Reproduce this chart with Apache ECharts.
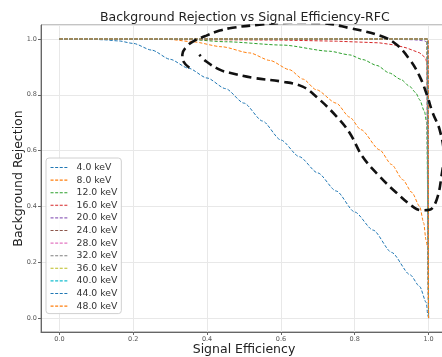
<!DOCTYPE html>
<html>
<head>
<meta charset="utf-8">
<script src="https://cdn.jsdelivr.net/npm/echarts@6/dist/echarts.min.js"></script>
<style>
  html, body { margin: 0; padding: 0; background: #ffffff; }
  #chart { width: 442px; height: 357px; }
</style>
</head>
<body>
<div id="chart"></div>
<script>
// Energy thresholds shown in the legend
const energies = ['4.0 keV', '8.0 keV', '12.0 keV', '16.0 keV', '20.0 keV', '24.0 keV',
                  '28.0 keV', '32.0 keV', '36.0 keV', '40.0 keV', '44.0 keV', '48.0 keV'];

// ROC points per energy: [signal efficiency, background rejection]
const roc4 = [[0, 1], [0.08, 1.0], [0.12, 0.997], [0.16, 0.993], [0.2, 0.984], [0.25, 0.96],
              [0.3, 0.927], [0.35, 0.895], [0.4, 0.86], [0.45, 0.822], [0.5, 0.77],
              [0.55, 0.706], [0.6, 0.638], [0.65, 0.578], [0.7, 0.52], [0.75, 0.455],
              [0.8, 0.38], [0.85, 0.315], [0.9, 0.235], [0.95, 0.155], [0.976, 0.113],
              [0.994, 0.055], [0.998, 0.01], [1.0, 0.0]];
const roc8 = [[0, 1], [0.3, 0.998], [0.36, 0.99], [0.44, 0.972], [0.515, 0.95], [0.57, 0.923],
              [0.623, 0.89], [0.66, 0.856], [0.696, 0.818], [0.75, 0.77], [0.786, 0.72],
              [0.817, 0.675], [0.867, 0.603], [0.9, 0.55], [0.93, 0.496], [0.955, 0.45],
              [0.976, 0.4], [0.987, 0.34], [0.993, 0.28], [0.997, 0.257], [1.0, 0.0]];
const roc12 = [[0, 1], [0.35, 0.998], [0.45, 0.99], [0.605, 0.978], [0.732, 0.956],
               [0.786, 0.943], [0.822, 0.926], [0.86, 0.905], [0.894, 0.878], [0.925, 0.855],
               [0.949, 0.83], [0.965, 0.808], [0.976, 0.782], [0.989, 0.74], [0.995, 0.70],
               [1.0, 0.0]];
const roc16 = [[0, 1], [0.6, 0.996], [0.75, 0.992], [0.867, 0.986], [0.91, 0.978],
               [0.94, 0.968], [0.96, 0.958], [0.976, 0.95], [0.987, 0.938], [0.993, 0.926],
               [0.996, 0.91], [1.0, 0.0]];
const roc20 = [[0, 1], [0.9, 0.999], [0.96, 0.997], [0.99, 0.993], [0.998, 0.985], [1.0, 0.0]];
const roc24 = [[0, 1], [0.99, 1.0], [0.999, 0.998], [1.0, 0.0]];
const roc28 = [[0, 1], [0.995, 1.0], [1.0, 0.999], [1.0, 0.0]];
const roc32 = [[0, 1], [0.995, 1.0], [1.0, 0.999], [1.0, 0.0]];
const roc36 = [[0, 1], [0.996, 1.0], [1.0, 0.999], [1.0, 0.0]];
const roc40 = [[0, 1], [0.997, 1.0], [1.0, 0.999], [1.0, 0.0]];
const roc44 = [[0, 1], [0.998, 1.0], [1.0, 0.999], [1.0, 0.0]];
const roc48 = [[0, 1], [0.999, 1.0], [1.0, 0.999], [1.0, 0.0]];

// Hand-drawn highlight loop around the upper-right region
const annotationLoop = [[0.352, 0.897], [0.336, 0.919], [0.333, 0.944], [0.344, 0.972],
  [0.366, 0.994], [0.398, 1.012], [0.434, 1.03], [0.469, 1.04], [0.542, 1.051], [0.623, 1.058],
  [0.705, 1.057], [0.786, 1.039], [0.875, 1.009], [0.913, 0.98], [0.949, 0.926], [0.976, 0.866],
  [0.997, 0.794], [1.011, 0.736], [1.03, 0.675], [1.041, 0.586], [1.035, 0.508], [1.022, 0.424],
  [1.003, 0.388], [0.984, 0.386], [0.962, 0.395], [0.913, 0.449], [0.867, 0.508], [0.821, 0.579],
  [0.786, 0.664], [0.751, 0.722], [0.696, 0.793], [0.659, 0.829], [0.604, 0.847], [0.523, 0.861],
  [0.461, 0.879], [0.434, 0.89], [0.398, 0.919], [0.379, 0.944]];

const curves = [roc4, roc8, roc12, roc16, roc20, roc24, roc28, roc32, roc36, roc40, roc44, roc48];
const palette = ['#1f77b4', '#ff7f0e', '#2ca02c', '#d62728', '#9467bd', '#8c564b',
                 '#e377c2', '#7f7f7f', '#bcbd22', '#17becf', '#1f77b4', '#ff7f0e'];
// the three low-energy curves are sampled coarsely enough to benefit from smoothing
const smoothed = [0.25, 0.25, 0.25, 0, 0, 0, 0, 0, 0, 0, 0, 0];

const FONT = 'DejaVu Sans';

const series = energies.map((name, i) => ({
  name: name,
  type: 'line',
  data: curves[i],
  symbol: 'none',
  showSymbol: false,
  smooth: smoothed[i],
  smoothMonotone: 'x',
  color: palette[i],
  lineStyle: { width: 1.0, type: [3.2, 1.8], color: palette[i] },
  z: 2 + i,
  animation: false
}));

series.push({
  name: 'loop',
  type: 'line',
  data: annotationLoop,
  symbol: 'none',
  smooth: 0.4,
  lineStyle: { width: 2.6, type: [9, 5], color: '#111' },
  z: 30,
  silent: true,
  animation: false
});

const chart = echarts.init(document.getElementById('chart'), null, { renderer: 'canvas' });

const axisCommon = {
  type: 'value',
  min: -0.05,
  max: 1.05,
  axisLine: { show: true, onZero: false, lineStyle: { color: '#666', width: 1 } },
  axisTick: { show: true, length: 3, lineStyle: { color: '#666' } },
  axisLabel: {
    fontFamily: FONT, fontSize: 6.5, color: '#555', margin: 4,
    showMinLabel: false, showMaxLabel: false,
    formatter: v => (Math.abs(v + 0.05) < 1e-6 || Math.abs(v - 1.05) < 1e-6) ? '' : v.toFixed(1)
  },
  splitLine: { show: true, lineStyle: { color: '#e8e8e8', width: 1 } },
  nameLocation: 'middle',
  nameMoveOverlap: false,
  nameTextStyle: { fontFamily: FONT, fontSize: 12.5, color: '#222' }
};

chart.setOption({
  backgroundColor: '#ffffff',
  animation: false,
  grid: {
    left: 41, top: 25, width: 406, height: 307,
    outerBoundsMode: 'none',
    containLabel: false,
    show: true, borderColor: '#888', borderWidth: 1, backgroundColor: '#ffffff'
  },
  graphic: [{
    type: 'text',
    left: 244 - 144, top: 11,
    style: {
      text: 'Background Rejection vs Signal Efficiency-RFC',
      font: '12.5px "DejaVu Sans"',
      fill: '#222'
    }
  }],
  legend: {
    data: energies,
    orient: 'vertical',
    left: 46,
    top: 158,
    itemWidth: 18,
    itemHeight: 10,
    itemGap: 3.6,
    padding: [5, 4, 3, 4],
    itemStyle: { opacity: 0 },
    lineStyle: { width: 1.1, type: [3, 1.6] },
    backgroundColor: 'rgba(255,255,255,0.85)',
    borderColor: '#d0d0d0',
    borderWidth: 1,
    borderRadius: 3,
    textStyle: { fontFamily: FONT, fontSize: 9.3, color: '#333', padding: [0, 0, 0, 3] }
  },
  xAxis: Object.assign({}, axisCommon, { name: 'Signal Efficiency', nameGap: 11 }),
  yAxis: Object.assign({}, axisCommon, { name: 'Background Rejection', nameGap: 15.5 }),
  series: series
});
</script>
</body>
</html>
